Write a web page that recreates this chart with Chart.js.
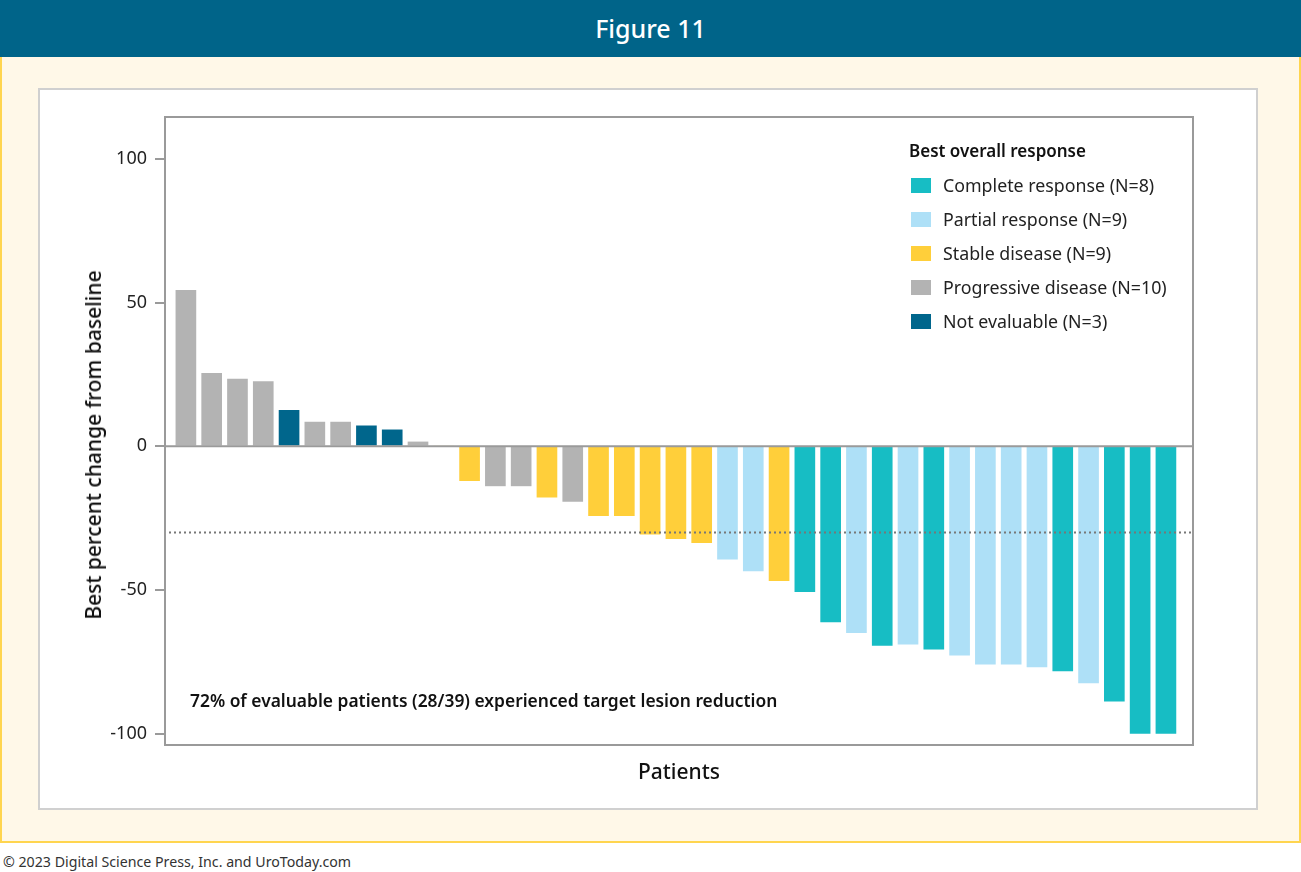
<!DOCTYPE html>
<html>
<head>
<meta charset="utf-8">
<script src="https://cdn.jsdelivr.net/npm/chart.js@4.4.0/dist/chart.umd.min.js"></script>
<style>
  html, body { margin: 0; padding: 0; background: #fff; }
  body { width: 1301px; height: 872px; position: relative; font-family: "Noto Sans", sans-serif; color: #222; overflow: hidden; }
  #header { position: absolute; left: 0; top: 0; width: 1301px; height: 57px; background: #006489; color: #fff;
    font-size: 25px; font-weight: 500; text-align: center; line-height: 57px; }
  #frame { position: absolute; left: 0; top: 57px; width: 1297px; height: 784px; background: #fff8e8;
    border: 2px solid #ffd54f; border-top: none; }
  #panel { position: absolute; left: 38px; top: 88px; width: 1216px; height: 718px; background: #fff; border: 2px solid #d0d0d0; }
  #chart-wrap { position: absolute; left: 38px; top: 88px; width: 1220px; height: 722px; }
  #y-title { position: absolute; left: 93px; top: 445px; transform: translate(-50%, -50%) rotate(-90deg);
    white-space: nowrap; font-size: 21px; font-weight: 500; color: #111; }
  #x-title { position: absolute; left: 679px; top: 771px; transform: translate(-50%, -50%);
    font-size: 21px; font-weight: 500; color: #111; }
  #note { position: absolute; left: 190px; top: 700px; transform: translateY(-50%);
    font-size: 17.4px; font-weight: 600; color: #111; white-space: nowrap; }
  #legend { position: absolute; left: 909px; top: 138px; }
  #legend .title { font-size: 17px; font-weight: 600; color: #111; height: 26px; line-height: 26px; margin-bottom: 4px; }
  #legend .row { height: 34px; display: flex; align-items: center; font-size: 17.8px; color: #222; white-space: nowrap; }
  #legend .sw { width: 20px; height: 15px; margin-left: 2px; margin-right: 12px; }
  #footer { position: absolute; left: 3px; top: 861px; transform: translateY(-50%); font-size: 14.2px; color: #333; white-space: nowrap; }
</style>
</head>
<body>
<div id="header">Figure 11</div>
<div id="frame"></div>
<div id="panel"></div>
<div id="chart-wrap"><canvas id="myChart"></canvas></div>
<div id="y-title">Best percent change from baseline</div>
<div id="x-title">Patients</div>
<div id="note">72% of evaluable patients (28/39) experienced target lesion reduction</div>
<div id="legend"></div>
<div id="footer">© 2023 Digital Science Press, Inc. and UroToday.com</div>

<script>
// patient order along the x axis
const patients = [1, 2, 3, 4, 5, 6, 7, 8, 9, 10, 11, 12, 13, 14, 15, 16, 17, 18, 19, 20,
  21, 22, 23, 24, 25, 26, 27, 28, 29, 30, 31, 32, 33, 34, 35, 36, 37, 38, 39];

// best percent change from baseline, one per patient
const changes = [54.3, 25.4, 23.4, 22.5, 12.5, 8.4, 8.4, 7.1, 5.7, 1.5,
  0, -12.0, -13.8, -13.8, -17.7, -19.2, -24.2, -24.2, -30.6, -32.2,
  -33.6, -39.3, -43.4, -46.8, -50.6, -61.2, -64.9, -69.3, -68.9, -70.6,
  -72.7, -75.9, -75.9, -76.8, -78.2, -82.4, -88.7, -100, -100];

// best overall response per patient
const responses = ['PD', 'PD', 'PD', 'PD', 'NE', 'PD', 'PD', 'NE', 'NE', 'PD',
  'SD', 'SD', 'PD', 'PD', 'SD', 'PD', 'SD', 'SD', 'SD', 'SD',
  'SD', 'PR', 'PR', 'SD', 'CR', 'CR', 'PR', 'CR', 'PR', 'CR',
  'PR', 'PR', 'PR', 'PR', 'CR', 'PR', 'CR', 'CR', 'CR'];

const responseKeys = ['CR', 'PR', 'SD', 'PD', 'NE'];
const responseLabels = ['Complete response (N=8)', 'Partial response (N=9)', 'Stable disease (N=9)',
  'Progressive disease (N=10)', 'Not evaluable (N=3)'];
const responseColors = ['#17bdc4', '#aee0f7', '#ffcf3a', '#b3b3b3', '#00668c'];

const yTicks = [-100, -50, 0, 50, 100];
const threshold = -30;

function colorFor(key) {
  return responseColors[responseKeys.indexOf(key)];
}

// legend
let legend = document.getElementById('legend');
legend.innerHTML = '<div class="title">Best overall response</div>' +
  responseKeys.map((k, i) => `<div class="row"><span class="sw" style="background:${responseColors[i]}"></span>${responseLabels[i]}</div>`).join('');

// frame, zero line and -30% reference line
const framePlugin = {
  id: 'framePlugin',
  afterDatasetsDraw(chart) {
    const { ctx, chartArea } = chart;
    const y = chart.scales.y;
    ctx.save();
    ctx.strokeStyle = '#9a9a9a';
    ctx.lineWidth = 2;
    ctx.strokeRect(chartArea.left, chartArea.top, chartArea.right - chartArea.left, chartArea.bottom - chartArea.top);

    let y0 = y.getPixelForValue(0);
    ctx.beginPath();
    ctx.moveTo(chartArea.left, y0);
    ctx.lineTo(chartArea.right, y0);
    ctx.stroke();

    let yt = y.getPixelForValue(threshold);
    ctx.strokeStyle = '#777';
    ctx.lineWidth = 2;
    ctx.setLineDash([2, 3]);
    ctx.beginPath();
    ctx.moveTo(chartArea.left + 4, yt);
    ctx.lineTo(chartArea.right, yt);
    ctx.stroke();
    ctx.restore();
  }
};

const ctx = document.getElementById('myChart').getContext('2d');
const chart = new Chart(ctx, {
  type: 'bar',
  data: {
    datasets: [{
      data: patients.map((p, i) => ({ x: p, y: changes[i] })),
      backgroundColor: responses.map(colorFor),
      borderWidth: 0,
      barThickness: 20,
    }]
  },
  options: {
    responsive: true,
    maintainAspectRatio: false,
    animation: false,
    layout: { padding: { left: 0, top: 29, right: 65, bottom: 65 } },
    plugins: { legend: { display: false }, tooltip: { enabled: false } },
    scales: {
      x: {
        type: 'linear',
        offset: false,
        min: 0.19,
        max: 40.05,
        display: false,
      },
      y: {
        min: -104,
        max: 114.6,
        afterFit(scale) { scale.width = 127; },
        afterBuildTicks(scale) { scale.ticks = yTicks.map(v => ({ value: v })); },
        border: { display: true, color: '#9a9a9a', width: 2 },
        grid: { drawOnChartArea: false, drawTicks: true, tickLength: 10, color: '#9a9a9a', lineWidth: 2 },
        ticks: { color: '#222', padding: 8, font: { family: 'Noto Sans', size: 18 } },
      }
    }
  },
  plugins: [framePlugin]
});
</script>
</body>
</html>
